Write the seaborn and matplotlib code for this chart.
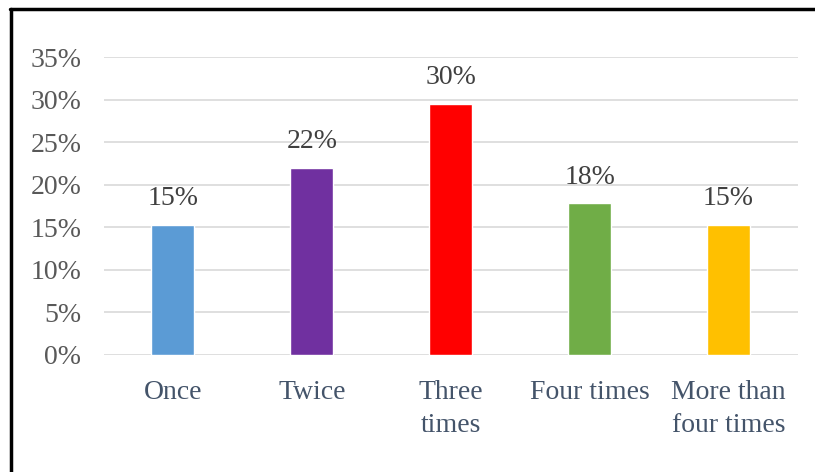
import matplotlib
matplotlib.use("Agg")
import matplotlib.pyplot as plt
import seaborn as sns
import pandas as pd
from matplotlib.lines import Line2D

categories = ["Once", "Twice", "Three\ntimes", "Four times", "More than\nfour times"]
values = [15.3, 22.0, 29.5, 17.8, 15.3]
labels = ["15%", "22%", "30%", "18%", "15%"]
colors = ["#5B9BD5", "#7030A0", "#FF0000", "#70AD47", "#FFC000"]
yticks = [0, 5, 10, 15, 20, 25, 30, 35]

sns.set_theme(style="white")
plt.rcParams["font.family"] = ["Liberation Serif", "DejaVu Serif"]

df = pd.DataFrame({"cat": categories, "val": values})

fig = plt.figure(figsize=(8.15, 4.72), dpi=100)
ax = fig.add_axes([0.127, 0.248, 0.852, 0.631])

sns.barplot(data=df, x="cat", y="val", hue="cat", palette=colors,
            legend=False, width=0.31, ax=ax, saturation=1, zorder=3)

ax.set_ylim(0, 35)
ax.set_xlim(-0.5, 4.5)
ax.set_yticks(yticks)
ax.set_yticklabels([f"{t}%" for t in yticks], color="#595959", fontsize=20)
ax.yaxis.grid(True, color="#D9D9D9", linewidth=1.2, zorder=0)
ax.set_axisbelow(True)
for s in ax.spines.values():
    s.set_visible(False)
ax.tick_params(axis="both", length=0)
ax.tick_params(axis="y", pad=16)
ax.tick_params(axis="x", pad=18)
for t in ax.get_xticklabels():
    t.set_color("#44546A")
    t.set_fontsize(20)
    t.set_linespacing(1.4)
ax.set_xlabel("")
ax.set_ylabel("")

for i, (v, lab) in enumerate(zip(values, labels)):
    ax.annotate(lab, (i, v), xytext=(0, 10), textcoords="offset points",
                ha="center", va="bottom", fontsize=20, color="#404040")

# frame lines (top and left only, as in the reference crop)
fig.add_artist(Line2D([0.013, 0.013], [0.0, 0.981], transform=fig.transFigure,
                      color="black", linewidth=2.5))
fig.add_artist(Line2D([0.012, 1.0], [0.981, 0.981], transform=fig.transFigure,
                      color="black", linewidth=2.5))

fig.savefig("out.png", dpi=100)
